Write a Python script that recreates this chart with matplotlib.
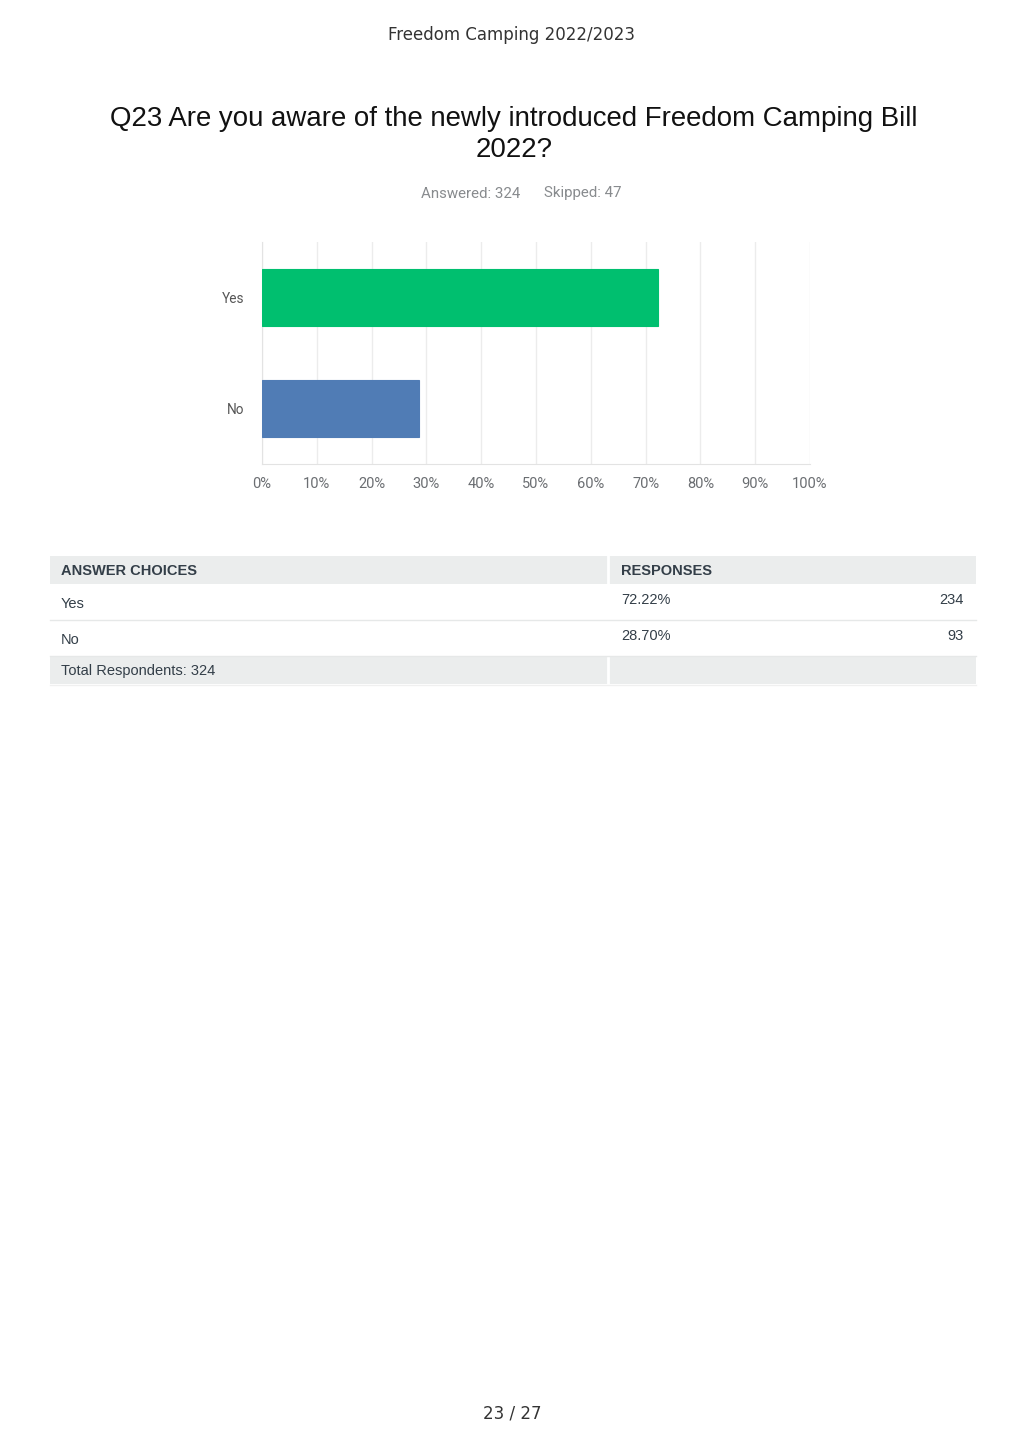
import matplotlib
matplotlib.use("Agg")
import matplotlib.pyplot as plt
from matplotlib.patches import Rectangle
from matplotlib.lines import Line2D

# ---- data ----
categories = ["Yes", "No"]
percentages = [72.22, 28.70]
counts = [234, 93]
answered = 324
skipped = 47
xticks = [0, 10, 20, 30, 40, 50, 60, 70, 80, 90, 100]
bar_colors = ["#00BF6F", "#507CB5"]

W, H = 1024, 1449
fig = plt.figure(figsize=(W / 100, H / 100), dpi=100)
fig.patch.set_facecolor("white")


def fx(px):
    return px / W


def fy(py):
    return 1 - py / H


# header/footer
fig.text(fx(512), fy(35), "Freedom Camping 2022/2023", ha="center", va="center",
         fontsize=12, family="DejaVu Sans", color="#333333")
fig.text(fx(512), fy(1414), "23 / 27", ha="center", va="center",
         fontsize=12, family="DejaVu Sans", color="#333333")

# title
fig.text(fx(514), fy(134.5), "Q23 Are you aware of the newly introduced Freedom Camping Bill\n2022?",
         ha="center", va="center", fontsize=19.9, family="Liberation Sans",
         color="#111111", linespacing=1.28)

fig.text(fx(520), fy(193.5), f"Answered: {answered}", ha="right", va="center",
         fontsize=10.8, family="Roboto", color="#888b8e")
fig.text(fx(544), fy(193.5), f"Skipped: {skipped}", ha="left", va="center",
         fontsize=10.8, family="Roboto", color="#888b8e")

# chart
ax = fig.add_axes([fx(262), fy(464), fx(810) - fx(262), (464 - 242) / H])
ypos = list(range(len(categories)))
ax.barh(ypos, percentages, height=0.52, color=bar_colors, edgecolor=bar_colors, linewidth=0.8, zorder=3)
ax.set_ylim(len(categories) - 0.5, -0.5)
ax.set_xlim(0, 100)
ax.set_yticks(ypos)
ax.set_yticklabels(categories, fontsize=9.8, family="Roboto", color="#555555")
ax.set_xticks(xticks)
ax.set_xticklabels([f"{t}%" for t in xticks], fontsize=10.5, family="Roboto", color="#6b6e72")
ax.tick_params(axis="both", length=0)
ax.tick_params(axis="x", pad=9)
ax.tick_params(axis="y", pad=13)
ax.grid(axis="x", color="#ececec", linewidth=1, zorder=0)
for s in ["top", "right"]:
    ax.spines[s].set_visible(False)
ax.spines["left"].set_color("#e3e3e3")
ax.spines["bottom"].set_color("#e3e3e3")
ax.set_axisbelow(True)

# table
tl, tr, tm = 50, 976, 608
gray = "#ebeded"


def rect(x0, y0, x1, y1, color):
    fig.patches.append(Rectangle((fx(x0), fy(y1)), fx(x1) - fx(x0), (y1 - y0) / H,
                                 transform=fig.transFigure, facecolor=color,
                                 edgecolor="none", zorder=0))


def hline(y, x0=tl, x1=tr, color="#e6e8e8"):
    fig.lines.append(Line2D([fx(x0), fx(x1)], [fy(y), fy(y)], transform=fig.transFigure,
                            color=color, linewidth=1))


def vline(x, y0, y1, color="white"):
    fig.lines.append(Line2D([fx(x), fx(x)], [fy(y0), fy(y1)], transform=fig.transFigure,
                            color=color, linewidth=2))


rect(tl, 556, tr, 584, gray)
rect(tl, 657, tr, 684, gray)
vline(tm, 556, 584)
vline(tm, 657, 684)
hline(620)
hline(656)
hline(685, color="#f0f0f0")

tfont = dict(family="Liberation Sans", fontsize=10.5, color="#333e48")
fig.text(fx(61), fy(571), "ANSWER CHOICES", ha="left", va="center", fontweight="bold", **tfont)
fig.text(fx(621), fy(571), "RESPONSES", ha="left", va="center", fontweight="bold", **tfont)

row_y = [604, 640]
for cat, pct, cnt, y in zip(categories, percentages, counts, row_y):
    fig.text(fx(61), fy(y), cat, ha="left", va="center", **tfont)
    fig.text(fx(621), fy(y - 4), f"{pct:.2f}%", ha="left", va="center", **tfont)
    fig.text(fx(964), fy(y - 4), f"{cnt}", ha="right", va="center", **tfont)

fig.text(fx(61), fy(671), f"Total Respondents: {answered}", ha="left", va="center", **tfont)

fig.savefig("out.png", dpi=100, facecolor="white")
